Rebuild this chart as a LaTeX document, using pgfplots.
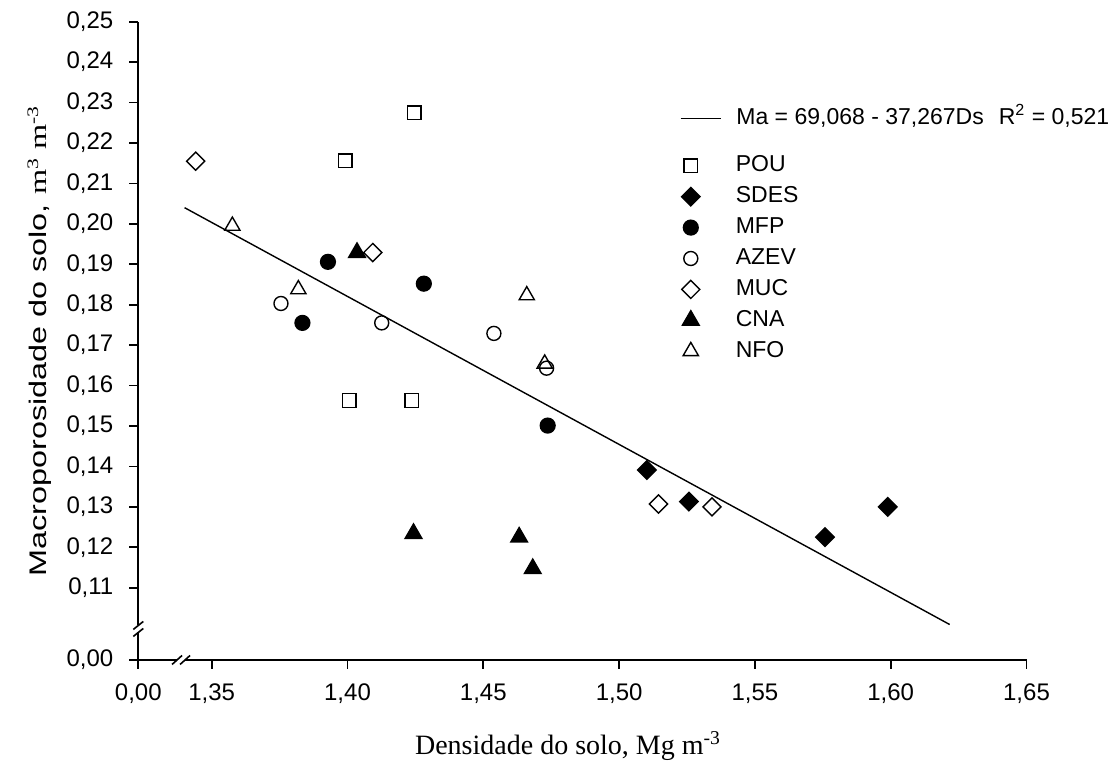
\documentclass[border=0pt]{standalone}
\usepackage{fontspec}
\setmainfont{Liberation Sans}
\newfontfamily\seriffont{Liberation Serif}
\usepackage{graphicx}
\usepackage{pgfplots}
\pgfplotsset{compat=1.18}
\pgfplotstableread{
x y
1.4245 0.2275
1.3991 0.2156
1.4006 0.1563
1.4236 0.1563
}\pou
\pgfplotstableread{
x y
1.5102 0.1391
1.5257 0.1313
1.5758 0.1225
1.5989 0.1300
}\sdes
\pgfplotstableread{
x y
1.3928 0.1906
1.4281 0.1852
1.3834 0.1755
1.4737 0.1501
}\mfp
\pgfplotstableread{
x y
1.3755 0.1803
1.4126 0.1755
1.4539 0.1729
1.4733 0.1643
}\azev
\pgfplotstableread{
x y
1.3441 0.2155
1.4093 0.1929
1.5145 0.1307
1.5342 0.1300
}\muc
\pgfplotstableread{
x y
1.4035 0.1929
1.4243 0.1234
1.4632 0.1225
1.4682 0.1147
}\cna
\pgfplotstableread{
x y
1.3576 0.1995
1.3819 0.1838
1.4660 0.1823
1.4726 0.1654
}\nfo
\begin{document}
\begin{tikzpicture}
\useasboundingbox (-69.15pt,-54.5pt) rectangle (485.85pt,330pt);
\pgfplotsset{
  base/.style={
    at={(0,0)}, anchor=south west,
    scale only axis, width=444.1pt, height=319.15pt,
    xmin=1.32297, xmax=1.65, ymin=0.09212, ymax=0.25,
    clip=false,
  }
}
\begin{axis}[base,
  axis lines=left, axis line style={-, line width=0.9pt},
  tick align=outside, major tick length=4.5pt,
  every tick/.style={black, line width=0.9pt},
  xtick={1.32297,1.35,1.40,1.45,1.50,1.55,1.60,1.65},
  xticklabels={{0,00},{1,35},{1,40},{1,45},{1,50},{1,55},{1,60},{1,65}},
  ytick={0.09212,0.11,0.12,0.13,0.14,0.15,0.16,0.17,0.18,0.19,0.20,0.21,0.22,0.23,0.24,0.25},
  yticklabels={{0,00},{0,11},{0,12},{0,13},{0,14},{0,15},{0,16},{0,17},{0,18},{0,19},{0,20},{0,21},{0,22},{0,23},{0,24},{0,25}},
  tick label style={font=\fontsize{12}{14}\selectfont},
  yticklabel style={xshift=-4.5pt},
  xticklabel style={yshift=-4pt},
  xlabel={\seriffont\fontsize{14}{16}\selectfont Densidade do solo, Mg m\textsuperscript{-3}},
  xlabel style={at={(axis description cs:0.4838,-0.1488)}, anchor=base},
  ylabel={\scalebox{1.35}[1]{\fontsize{12}{14}\selectfont Macroporosidade do solo, {\seriffont m\textsuperscript{3} m\textsuperscript{-3}}}},
  ylabel style={at={(axis description cs:-0.1031,0.5)}, anchor=base, rotate=0},
  legend style={at={(0.6029,0.7899)}, anchor=north west, draw=none, fill=none,
    font=\fontsize{11.5}{13}\selectfont, inner sep=0pt, outer sep=0pt, row sep=5.45pt,
    nodes={inner sep=0pt, text height=8pt, text depth=2pt},
    /tikz/every odd column/.append style={column sep=14pt}},
  legend cell align=left,
  legend image code/.code={\path[draw=none, fill=none] (0pt,-0.5pt) rectangle (17pt,0.5pt);
    \draw[#1] plot coordinates {(8.5pt,0pt)};},
]
\addplot[only marks, mark=square, mark size=3.4pt, mark options={line width=0.7pt, black}] table {\pou};
\addlegendentry{POU}
\addplot[only marks, mark=square*, mark size=3.27pt, mark options={rotate=45, line width=0.7pt, black, fill=black}] table {\sdes};
\addlegendentry{SDES}
\addplot[only marks, mark=*, mark size=3.7pt, mark options={line width=0.7pt, black, fill=black}] table {\mfp};
\addlegendentry{MFP}
\addplot[only marks, mark=o, mark size=3.5pt, mark options={line width=0.7pt, black}] table {\azev};
\addlegendentry{AZEV}
\addplot[only marks, mark=square, mark size=3.2pt, mark options={rotate=45, line width=0.7pt, black}] table {\muc};
\addlegendentry{MUC}
\addplot[only marks, mark=triangle*, mark size=4.8pt, mark options={line width=0.7pt, black, fill=black}] table {\cna};
\addlegendentry{CNA}
\addplot[only marks, mark=triangle, mark size=4.4pt, mark options={line width=0.7pt, black}] table {\nfo};
\addlegendentry{NFO}
\coordinate (yb) at (axis cs:1.32297,0.0998);
\coordinate (xb) at (axis cs:1.3387,0.09212);
\end{axis}
\begin{axis}[base, hide axis,
  legend style={at={(0.6099,0.864)}, anchor=north west, draw=none, fill=none,
    font=\fontsize{11.5}{13}\selectfont, inner sep=0pt, outer sep=0pt,
    nodes={inner sep=0pt, text height=8pt, text depth=2pt},
    /tikz/every odd column/.append style={column sep=7.5pt}},
  legend image code/.code={\draw[#1] (0pt,0pt) -- (20pt,0pt);},
]
\addplot[black, line width=0.7pt] coordinates {(1.3400,0.2040) (1.6217,0.1009)};
\addlegendentry{Ma = 69,068 - 37,267Ds\hspace{7.5pt}R\textsuperscript{2} = 0,521}
\end{axis}
% axis breaks
\begin{scope}[shift={(yb)}]
\fill[white] (-1.5pt,-1.75pt) rectangle (1.5pt,1.75pt);
\draw[line width=0.8pt] (-2.5pt,-3.75pt) -- (2.5pt,0.25pt);
\draw[line width=0.8pt] (-2.5pt,-0.25pt) -- (2.5pt,3.75pt);
\end{scope}
\begin{scope}[shift={(xb)}]
\fill[white] (-2pt,-1.5pt) rectangle (2pt,1.5pt);
\draw[line width=0.8pt] (-4.5pt,-2.25pt) -- (0.5pt,2.25pt);
\draw[line width=0.8pt] (-0.5pt,-2.25pt) -- (4.5pt,2.25pt);
\end{scope}
\end{tikzpicture}
\end{document}
